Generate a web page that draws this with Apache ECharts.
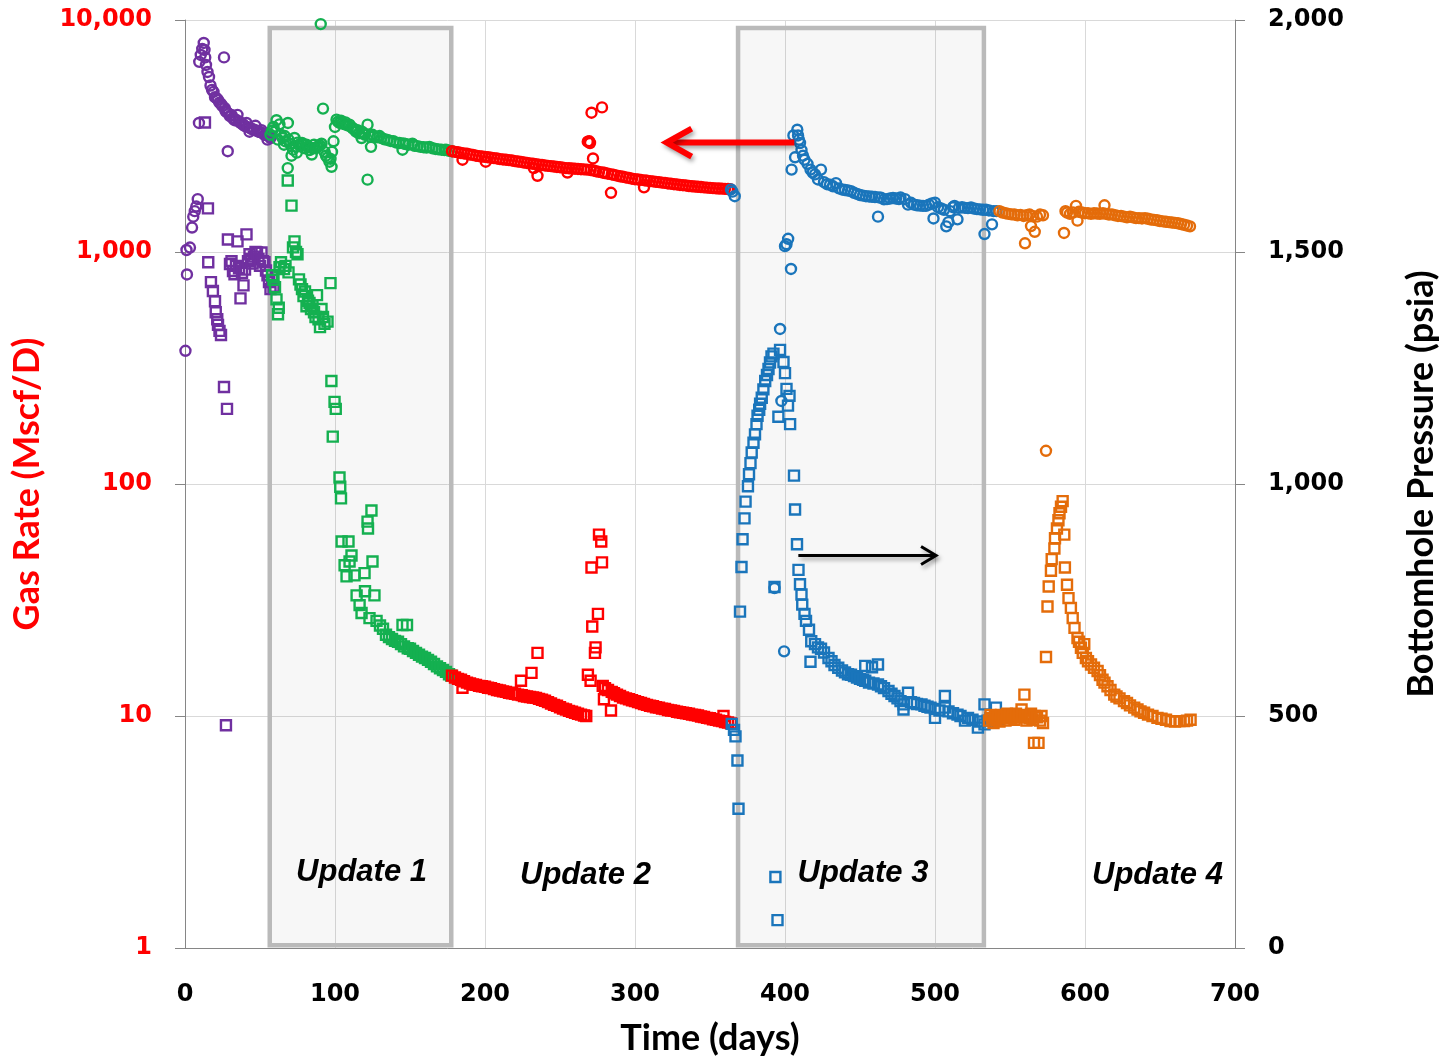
<!DOCTYPE html>
<html>
<head>
<meta charset="utf-8">
<title>Gas Rate and Bottomhole Pressure</title>
<script src="https://cdn.jsdelivr.net/npm/echarts@6/dist/echarts.min.js"></script>
<style>
  html, body { margin: 0; padding: 0; background: #ffffff; }
  #chart { width: 1447px; height: 1061px; }
</style>
</head>
<body>
<div id="chart"></div>
<script>
// ---- Gas rate, Mscf/D (circles, left log axis): [day, rate] ----
const purpleRate = [[0.3,375],[1.0,1020],[1.3,800],[3.3,1045],[4.7,1275],[5.5,1420],[6.5,1500],[7.5,1570],[8.5,1690],[9.3,3600],[9.5,6600],[10.5,7070],[11.5,7500],[12.5,7960],[13,7430],[13.5,6900],[14,6400],[15,5970],[16,5680],[17,5220],[18,5000],[19,4900],[20,4650],[21,4600],[22,4530],[23,4400],[24,4350],[25,4250],[26,6900],[26.5,4170],[27,4050],[28,4000],[28.5,2720],[29,3950],[30,3850],[31,3900],[32,3770],[33,3700],[34,3720],[35,3900],[36,3650],[37,3600],[38,3580],[39,3520],[40,3490],[41,3600],[42,3450],[43,3300],[44,3400],[45,3380],[46,3370],[47,3500],[48,3330],[49,3300],[50,3290],[51,3350],[52,3250],[53,3200],[54,3200],[55,3050],[56,3150],[57,3100]];
const greenRate = [[57,3200],[58,3330],[59,3460],[60,3300],[61,3700],[62,3050],[63,3550],[64,3200],[65,3100],[66,2900],[66.5,3160],[67,3000],[68.5,2300],[68.6,3600],[69,3050],[70,2930],[71,2600],[72,2760],[73,3100],[74,2850],[74.5,2680],[75,2960],[76,2900],[77,2850],[78,2950],[79,2900],[80,2800],[81,2900],[82,2850],[83,2750],[84.5,2630],[85,2800],[86,2900],[87,2800],[88,2840],[89,2850],[90,2880],[90.5,9600],[91,2930],[92,4150],[93,2700],[94,2600],[95,2550],[96.3,2450],[97,2520],[97.7,2330],[98,2700],[99,3000],[100,3460],[101,3720],[102,3650],[103,3600],[104,3680],[105,3600],[106,3560],[107,3620],[108,3520],[109.7,3540],[111,3450],[112,3400],[113,3380],[114,3300],[115,3350],[116,3250],[117.7,3100],[118,3300],[119,3250],[120,3200],[121.7,3540],[121.7,2050],[123,3150],[124,2840],[125,3200],[126,3150],[128,3120],[129.7,3160],[131,3100],[133,3060],[135,3040],[137,3010],[139,3000],[141,2960],[143,2950],[145,2760],[145.5,2940],[147,2920],[149,2900],[151.6,2930],[153,2870],[155,2860],[157,2840],[159,2830],[161,2820],[163,2840],[165,2800],[167,2780],[169,2770],[171,2760],[173,2750],[174,2760],[176,2730],[178,2720]];
const redRate = [[178,2720],[180,2700],[182,2690],[184,2670],[185,2500],[186,2660],[188,2650],[190,2630],[192,2620],[194,2600],[196,2590],[198,2580],[200,2570],[200.5,2450],[202,2560],[204,2550],[206,2540],[208,2530],[210,2515],[212,2505],[214,2500],[216,2490],[218,2480],[220,2465],[222,2455],[224,2445],[226,2430],[228,2420],[230,2410],[232,2400],[232.5,2300],[234,2390],[235,2130],[236,2380],[238,2370],[240,2360],[242,2350],[244,2345],[246,2335],[248,2325],[250,2320],[252,2310],[254,2300],[255,2200],[256,2295],[258,2290],[260,2285],[262,2280],[264,2275],[266,2270],[268,2266],[268.5,2990],[269.5,3000],[270,2950],[270.5,2255],[271,3985],[272,2530],[272.5,2245],[274,2230],[276,2215],[278,4200],[278.5,2200],[280,2190],[282,2175],[284,1800],[284.5,2160],[286,2150],[288,2135],[290,2120],[292,2110],[294,2095],[296,2085],[298,2070],[300,2060],[302,2054],[304,2045],[306,1900],[306.5,2035],[308,2030],[310,2020],[312,2015],[314,2005],[316,2000],[318,1990],[320,1985],[322,1975],[324,1970],[326,1960],[328,1955],[330,1945],[332,1940],[334,1935],[336,1925],[338,1920],[340,1915],[342,1910],[344,1905],[346,1900],[348,1895],[350,1890],[352,1885],[354,1880],[356,1878],[358,1875],[360,1872],[362,1870],[363.5,1866]];
const blueRate = [[364,1861],[365,1820],[366.5,1740],[393,35.6],[396.7,466],[397.6,228],[399.4,19],[400,1060],[401,1080],[402.1,1140],[404,845],[404.4,2266],[405.6,3180],[406.7,2560],[408.2,3367],[408.7,3180],[409.3,3050],[410,2950],[411,2750],[412,2600],[413,2500],[415,2400],[417,2266],[418.5,2200],[420,2160],[422,2054],[424,2266],[426,2000],[428,1960],[430,1950],[432,1920],[434,1980],[436,1880],[438,1860],[440,1850],[442,1840],[444,1830],[446,1800],[448,1780],[450,1760],[452,1750],[454,1740],[456,1735],[458,1730],[460,1725],[462,1420],[462.5,1720],[464,1715],[466,1686],[468,1690],[470,1700],[472,1710],[474,1700],[476,1690],[477,1718],[480,1690],[482,1600],[484,1630],[486,1600],[488,1590],[490,1585],[492,1580],[494,1580],[496,1600],[498,1620],[499,1395],[500,1632],[502,1560],[504,1540],[506,1520],[507.5,1290],[509,1345],[510,1500],[512,1560],[513,1580],[515,1383],[516,1550],[518,1560],[520,1550],[522,1545],[524,1555],[526,1540],[528,1530],[530,1527],[532,1520],[533,1195],[534,1520],[536,1510],[538,1316],[539,1500],[541,1500]];
const orangeRate = [[543,1500],[545,1480],[547,1470],[549,1460],[551,1453],[553,1450],[555,1440],[557,1445],[559,1430],[560,1090],[561,1440],[563,1450],[564,1293],[565,1430],[566.5,1222],[568,1420],[570,1450],[572,1440],[574,139],[586,1208],[587,1500],[588,1480],[590,1460],[592,1480],[594,1580],[595,1365],[596,1490],[598,1480],[600,1470],[602,1470],[604,1460],[606,1470],[608,1465],[610,1460],[612,1470],[613,1590],[614,1460],[616,1450],[618,1453],[620,1440],[622,1430],[624,1430],[626,1420],[628,1410],[630,1420],[632,1410],[634,1400],[636,1400],[638,1395],[640,1400],[642,1390],[644,1380],[646,1375],[648,1370],[650,1360],[652,1355],[654,1350],[656,1345],[658,1340],[660,1335],[662,1330],[664,1320],[666,1310],[668,1300],[670,1290]];

// ---- Bottomhole pressure, psia (squares, right linear axis): [day, psia] ----
const purplePressure = [[13.3,1779],[15.3,1594],[15.5,1478],[17.3,1435],[18.6,1416],[20,1394],[20.5,1370],[21.5,1355],[22,1343],[23,1330],[24,1321],[26,1209],[27.3,480],[28,1162],[28.6,1527],[30,1474],[31,1480],[32,1459],[33,1452],[34,1470],[35,1523],[36,1465],[37,1400],[38,1455],[39,1428],[40,1462],[41,1538],[42,1480],[43,1495],[44,1485],[45,1475],[46,1490],[47,1500],[48,1499],[49,1485],[50,1470],[51,1499],[52,1480],[53,1478],[54,1460],[55,1450],[56,1435],[57,1420],[58,1440],[59,1425]];
const greenPressure = [[58,1450],[59,1440],[60,1424],[61,1398],[62,1366],[62.5,1380],[63,1467],[64,1478],[66,1463],[67,1470],[68.5,1654],[69,1456],[71,1600],[72,1510],[73,1523],[74,1500],[75,1495],[76,1441],[77,1430],[78,1420],[79,1405],[80,1415],[81,1383],[82,1395],[83,1390],[84,1377],[85,1385],[86,1370],[87,1360],[88,1407],[89,1355],[90,1338],[91,1377],[92,1360],[93,1345],[95,1350],[97,1433],[97.6,1222],[98.5,1102],[99.7,1177],[100.5,1162],[103,1014],[103.5,994],[104,969],[104.4,876],[106.4,825],[107.7,801],[109,876],[109.7,833],[111,846],[113,803],[114.4,760],[116.4,739],[117.7,722],[119.7,808],[120,769],[121.7,919],[122,904],[123,711],[124.3,943],[125,833],[126.3,760],[127.7,705],[130,695],[132,688],[134,675],[136,670],[138,666],[140,662],[142,660],[144,655],[145,696],[146,650],[148,696],[148.5,646],[150,645],[152,640],[154,636],[156,632],[158,628],[160,625],[162,621],[164,617],[166,612],[168,607],[170,603],[172,599],[174,595],[176,590],[177.5,587]];
const redPressure = [[178,587],[180,583],[182,580],[184,578],[185,561],[186,575],[188,572],[190,570],[192,568],[194,567],[196,565],[198,564],[200,563],[202,561],[204,560],[206,558],[208,556],[210,555],[212,553],[214,552],[216,550],[218,549],[220,548],[222,546],[224,576],[224.5,545],[226,543],[228,542],[230,541],[231,593],[232,540],[234,539],[235,636],[236,537],[238,535],[240,533],[242,530],[244,527],[246,524],[248,522],[250,519],[252,516],[254,514],[256,511],[258,509],[260,507],[262,505],[264,503],[266,501],[267.5,500],[268.6,589],[270.4,576],[271,820],[271.5,693],[273.3,636],[273.7,648],[275.3,720],[276,891],[277.5,876],[278,831],[278.5,565],[279.3,536],[280,560],[282,556],[284,512],[284.5,552],[286,549],[288,546],[290,543],[292,540],[294,538],[296,536],[298,534],[300,532],[302,530],[304,528],[306,526],[308,524],[310,522],[312,521],[314,519],[316,518],[318,516],[320,515],[322,513],[324,512],[326,511],[328,509],[330,508],[332,507],[334,506],[336,505],[338,503],[340,502],[342,501],[344,499],[346,498],[348,496],[350,495],[352,493],[354,492],[356,490],[358,489],[359,500],[360,487],[362,486],[364,484]];
const bluePressure = [[364.5,483],[366,470],[367,456],[368.3,404],[369,300],[370,725],[371,821],[371.7,881],[373,926],[373.7,962],[375.3,995],[376,1021],[377,1045],[377.8,1068],[379,1089],[380,1107],[381,1129],[381.7,1147],[382.8,1160],[383.4,1173],[384.5,1186],[385.6,1204],[386.8,1222],[388,1235],[389,1248],[390,1262],[391,1275],[392.3,1281],[393,778],[393.6,153],[395,60],[395.6,1145],[396.7,1289],[399,1263],[400,1239],[401,1205],[402,1169],[403,1190],[403.4,1129],[406,1018],[406.7,945],[408,870],[409,815],[410,784],[411,762],[411.5,740],[413,720],[414,705],[416,686],[417,617],[417.5,661],[420,655],[422,648],[424,645],[426,637],[429,625],[431,618],[433,610],[435.5,604],[438,598],[440,594],[442,590],[444,589],[446,586],[448,583],[450,580],[452,578],[453.5,576],[453.5,608],[456,572],[458,605],[459,570],[462,568],[462,611],[464,564],[466,560],[469,554],[471,548],[473,543],[475,538],[477,532],[479,525],[479,514],[482,550],[484,530],[486,528],[488,526],[491,525],[493,522],[495,520],[497,518],[500,496],[500,515],[503,512],[506.6,543],[506.6,518],[509,510],[512,506],[515,503],[517,500],[520,490],[522,496],[525,492],[528.6,475],[530,488],[533,525],[533,482],[535,490],[537,495],[540.6,518],[542,490]];
const orangePressure = [[536,490],[537,502],[538,495],[539,485],[540,500],[541,492],[542,497],[543,488],[544,502],[545,495],[546,500],[547,490],[548,505],[549,498],[550,503],[551,495],[552,500],[553,492],[554,505],[555,497],[556,502],[557.7,514],[558,500],[559.6,546],[560,498],[561,490],[562,500],[563,495],[564,505],[565,492],[566,442],[566.5,500],[568,497],[569,442],[570,490],[571,500],[572,485],[574,627],[575,736],[575.8,779],[577.3,813],[577.8,838],[579.6,861],[580,883],[581.3,904],[582.3,922],[583,937],[584,951],[585.1,963],[586.2,891],[586.6,820],[588,783],[589,754],[590.6,733],[591.8,711],[593,690],[595,668],[596,660],[597.3,647],[598.5,636],[599.5,655],[600.6,625],[602,618],[604,611],[606,604],[608.4,597],[610,588],[611.7,578],[613,572],[615,564],[617,556],[619.5,546],[621,542],[623,538],[626,532],[628,528],[630,523],[632.8,518],[635,514],[637,510],[639.4,507],[642,503],[645,500],[648.3,496],[651,494],[654,492],[657,489],[660,488],[663,489],[666,489],[668,490],[670.4,492]];

// ---- History-match windows [start day, end day] and their captions ----
const updateWindows = [[56.5, 177.5], [368.7, 532.6]];
const updateLabels = ['Update 1', 'Update 2', 'Update 3', 'Update 4'];

const COLORS = { purple: '#7030A0', green: '#14B050', red: '#FF0000', blue: '#1A75BB', orange: '#E46C0A' };
const tickFont = 'DejaVu Sans';
const titleFont = 'Lato';

function marks(name, data, color, symbol, yAxisIndex) {
  return {
    name: name,
    type: 'scatter',
    xAxisIndex: 0,
    yAxisIndex: yAxisIndex,
    data: data,
    symbol: symbol,
    symbolSize: 10,
    itemStyle: { color: 'rgba(0,0,0,0)', borderColor: color, borderWidth: 2.4, opacity: 1 },
    silent: true,
    z: 3
  };
}

const fmt = v => Math.round(v).toLocaleString('en-US');

const option = {
  animation: false,
  backgroundColor: '#ffffff',
  grid: { left: 185, right: 209, top: 20, bottom: 110, containLabel: false },
  xAxis: {
    type: 'value', min: 0, max: 700, interval: 100,
    name: 'Time (days)', nameLocation: 'middle', nameGap: 72,
    nameTextStyle: { fontFamily: titleFont, fontWeight: 'bold', fontSize: 36, color: '#000' },
    axisLine: { show: true, lineStyle: { color: '#868686', width: 1 } },
    axisTick: { show: false },
    axisLabel: { fontFamily: tickFont, fontWeight: 'bold', fontSize: 24, color: '#000', margin: 35 },
    splitLine: { show: true, lineStyle: { color: '#d9d9d9', width: 1 } }
  },
  yAxis: [
    {
      type: 'log', logBase: 10, min: 1, max: 10000, position: 'left',
      name: 'Gas Rate (Mscf/D)', nameLocation: 'middle', nameGap: 140, nameRotate: 90,
      nameTextStyle: { fontFamily: titleFont, fontWeight: 'bold', fontSize: 36, color: '#FF0000' },
      axisLine: { show: true, lineStyle: { color: '#868686', width: 1 } },
      axisTick: { show: true, length: 10, lineStyle: { color: '#868686' } },
      axisLabel: { fontFamily: tickFont, fontWeight: 'bold', fontSize: 24, color: '#FF0000', margin: 33, formatter: fmt },
      splitLine: { show: true, lineStyle: { color: '#d9d9d9', width: 1 } }
    },
    {
      type: 'value', min: 0, max: 2000, interval: 500, position: 'right',
      name: 'Bottomhole Pressure (psia)', nameLocation: 'middle', nameGap: 168, nameRotate: 90,
      nameTextStyle: { fontFamily: titleFont, fontWeight: 'bold', fontSize: 36, color: '#000' },
      axisLine: { show: true, lineStyle: { color: '#868686', width: 1 } },
      axisTick: { show: true, length: 10, lineStyle: { color: '#868686' } },
      axisLabel: { fontFamily: tickFont, fontWeight: 'bold', fontSize: 24, color: '#000', margin: 33, formatter: fmt },
      splitLine: { show: false }
    }
  ],
  series: [
    {
      name: 'windows', type: 'scatter', xAxisIndex: 0, yAxisIndex: 1, data: [], z: 1, silent: true,
      markArea: {
        silent: true,
        itemStyle: { color: 'rgba(0,0,0,0.03)', borderColor: '#bababa', borderWidth: 4.5 },
        data: updateWindows.map(w => [{ coord: [w[0], 6] }, { coord: [w[1], 1983] }])
      }
    },
    marks('Gas rate 0', purpleRate, COLORS.purple, 'circle', 0),
    marks('Pressure 0', purplePressure, COLORS.purple, 'rect', 1),
    marks('Gas rate 1', greenRate, COLORS.green, 'circle', 0),
    marks('Pressure 1', greenPressure, COLORS.green, 'rect', 1),
    marks('Gas rate 2', redRate, COLORS.red, 'circle', 0),
    marks('Pressure 2', redPressure, COLORS.red, 'rect', 1),
    marks('Gas rate 3', blueRate, COLORS.blue, 'circle', 0),
    marks('Pressure 3', bluePressure, COLORS.blue, 'rect', 1),
    marks('Gas rate 4', orangeRate, COLORS.orange, 'circle', 0),
    marks('Pressure 4', orangePressure, COLORS.orange, 'rect', 1),
    {
      name: 'captions', type: 'scatter', xAxisIndex: 0, yAxisIndex: 1, z: 5, silent: true,
      symbolSize: 1, itemStyle: { color: 'rgba(0,0,0,0)', opacity: 1 },
      data: [
        { name: updateLabels[0], value: [117.7, 162] },
        { name: updateLabels[1], value: [267, 156] },
        { name: updateLabels[2], value: [452, 160] },
        { name: updateLabels[3], value: [648.3, 156] }
      ],
      label: {
        show: true, position: 'inside', formatter: '{b}',
        fontFamily: 'Liberation Sans', fontStyle: 'italic', fontWeight: 'bold', fontSize: 31,
        color: '#000000', opacity: 1, textBorderWidth: 0, textBorderColor: 'transparent'
      }
    }
  ]
};

const chart = echarts.init(document.getElementById('chart'), null, { renderer: 'canvas' });
chart.setOption(option);

// Arrows pointing from each curve to the axis it is read against
const rateFinder = { xAxisIndex: 0, yAxisIndex: 0 };
const pressFinder = { xAxisIndex: 0, yAxisIndex: 1 };
const redTail = chart.convertToPixel(rateFinder, [406.2, 2962]);
const redTip = chart.convertToPixel(rateFinder, [321.1, 2962]);
const blackTail = chart.convertToPixel(pressFinder, [408.9, 846]);
const blackTip = chart.convertToPixel(pressFinder, [500.7, 846]);

function arrow(tail, tip, color, width, headLen, headHalf) {
  const dir = Math.sign(tip[0] - tail[0]);
  const shadow = { shadowBlur: 4, shadowColor: 'rgba(0,0,0,0.35)', shadowOffsetX: 2, shadowOffsetY: 3 };
  return [
    {
      type: 'line', z: 10, silent: true,
      shape: { x1: tail[0], y1: tail[1], x2: tip[0] - dir * 2, y2: tip[1] },
      style: Object.assign({ stroke: color, lineWidth: width }, shadow)
    },
    {
      type: 'polyline', z: 10, silent: true,
      shape: { points: [[tip[0] - dir * headLen, tip[1] - headHalf], [tip[0], tip[1]], [tip[0] - dir * headLen, tip[1] + headHalf]] },
      style: Object.assign({ stroke: color, lineWidth: width, fill: null, lineJoin: 'miter', lineCap: 'butt' }, shadow)
    }
  ];
}

chart.setOption({
  graphic: [].concat(
    arrow(redTail, redTip, '#FF0000', 6, 25, 14),
    arrow(blackTail, blackTip, '#000000', 3, 15, 9)
  )
});
</script>
</body>
</html>
